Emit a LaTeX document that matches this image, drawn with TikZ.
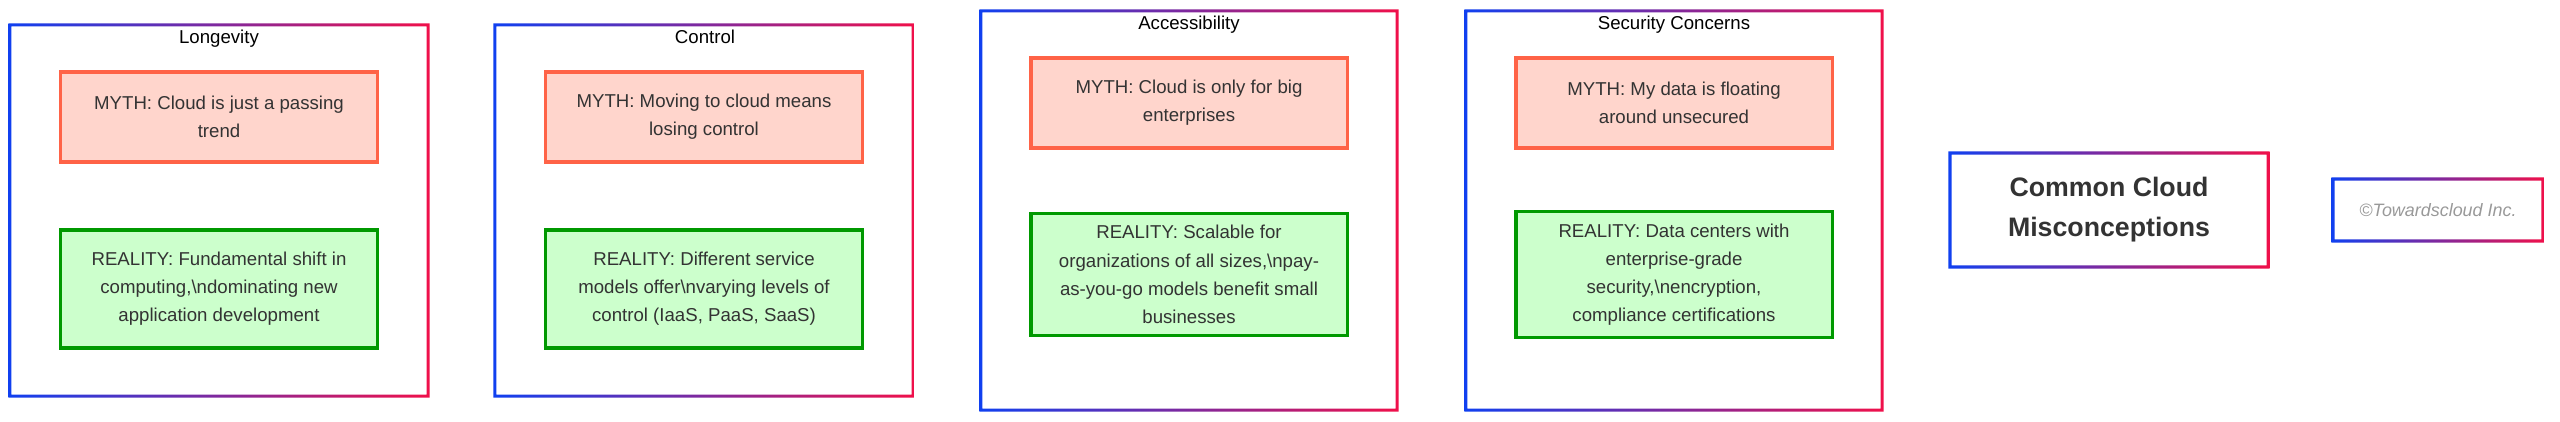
\documentclass[tikz,border=0pt]{standalone}
\usepackage{fontspec}
\setmainfont{Liberation Sans}
\definecolor{gblue}{HTML}{1040F0}
\definecolor{gred}{HTML}{F0104A}
\definecolor{mythfill}{HTML}{FFD5CC}
\definecolor{mythdraw}{HTML}{FF6347}
\definecolor{realfill}{HTML}{CCFFCC}
\definecolor{realdraw}{HTML}{009900}
\definecolor{txt}{HTML}{333333}
\newcommand{\gradframe}[1]{%
  \shade[left color=gblue, right color=gred, even odd rule]
    ([shift={(-1.6,-1.6)}]#1.north west) rectangle ([shift={(1.6,1.6)}]#1.south east)
    ([shift={(1.6,1.6)}]#1.north west) rectangle ([shift={(-1.6,-1.6)}]#1.south east);}

\begin{document}
\begin{tikzpicture}[x=0.01cm, y=-0.01cm]
    \tikzset{
        frame/.style={inner sep=0pt, outer sep=0pt},
        boxtext/.style={font=\fontsize{5.3}{8}\selectfont, text=txt, align=center},
        myth/.style={boxtext, draw=mythdraw, fill=mythfill, line width=0.9pt,
            minimum width=3.16cm, minimum height=0.9cm},
        reality/.style={boxtext, draw=realdraw, fill=realfill, line width=0.9pt,
            minimum width=3.16cm, minimum height=1.18cm},
        ctitle/.style={font=\fontsize{5.3}{6}\selectfont, anchor=base},
    }
    \useasboundingbox (0,0) rectangle (2560,422);

    % Clusters
    \node[frame, minimum width=4.18cm, minimum height=3.71cm] (longevity) at (219,210.5) {};
    \node[frame, minimum width=4.18cm, minimum height=3.71cm] (control) at (704,210.5) {};
    \node[frame, minimum width=4.16cm, minimum height=3.99cm] (access) at (1189,210.5) {};
    \node[frame, minimum width=4.16cm, minimum height=3.99cm] (security) at (1674,210.5) {};
    \gradframe{longevity}
    \gradframe{control}
    \gradframe{access}
    \gradframe{security}
    \node[ctitle] (t1) at (219,44) {Longevity};
    \node[ctitle] (t2) at (705,44) {Control};
    \node[ctitle] (t3) at (1189,30) {Accessibility};
    \node[ctitle] (t4) at (1674,30) {Security Concerns};

    % Myths
    \node[myth] (m1) at (219,117) {MYTH: Cloud is just a passing\\trend};
    \node[myth] (m2) at (704,117) {MYTH: Moving to cloud means\\losing control};
    \node[myth] (m3) at (1189,103) {MYTH: Cloud is only for big\\enterprises};
    \node[myth] (m4) at (1674,103) {MYTH: My data is floating\\around unsecured};

    % Realities
    \node[reality] (r1) at (219,289) {REALITY: Fundamental shift in\\computing,\textbackslash ndominating new\\application development};
    \node[reality] (r2) at (704,289) {REALITY: Different service\\models offer\textbackslash nvarying levels of\\control (IaaS, PaaS, SaaS)};
    \node[reality, minimum height=1.19cm] (r3) at (1189,274.5) {REALITY: Scalable for\\organizations of all sizes,\textbackslash npay-\\as-you-go models benefit small\\businesses};
    \node[reality, minimum height=1.19cm] (r4) at (1674,274.5) {REALITY: Data centers with\\enterprise-grade\\security,\textbackslash nencryption,\\compliance certifications};

    % Title and footer
    \node[frame, minimum width=3.18cm, minimum height=1.14cm] (title) at (2109,210) {};
    \gradframe{title}
    \node[font=\bfseries\fontsize{7.6}{11.4}\selectfont, text=txt, align=center] (titletext) at (title) {Common Cloud\\Misconceptions};
    \node[frame, minimum width=2.1cm, minimum height=0.62cm] (footer) at (2438,210) {};
    \gradframe{footer}
    \node[font=\itshape\fontsize{5.1}{6}\selectfont, text=gray!80] (footertext) at (footer) {\textcopyright Towardscloud Inc.};
\end{tikzpicture}
\end{document}
